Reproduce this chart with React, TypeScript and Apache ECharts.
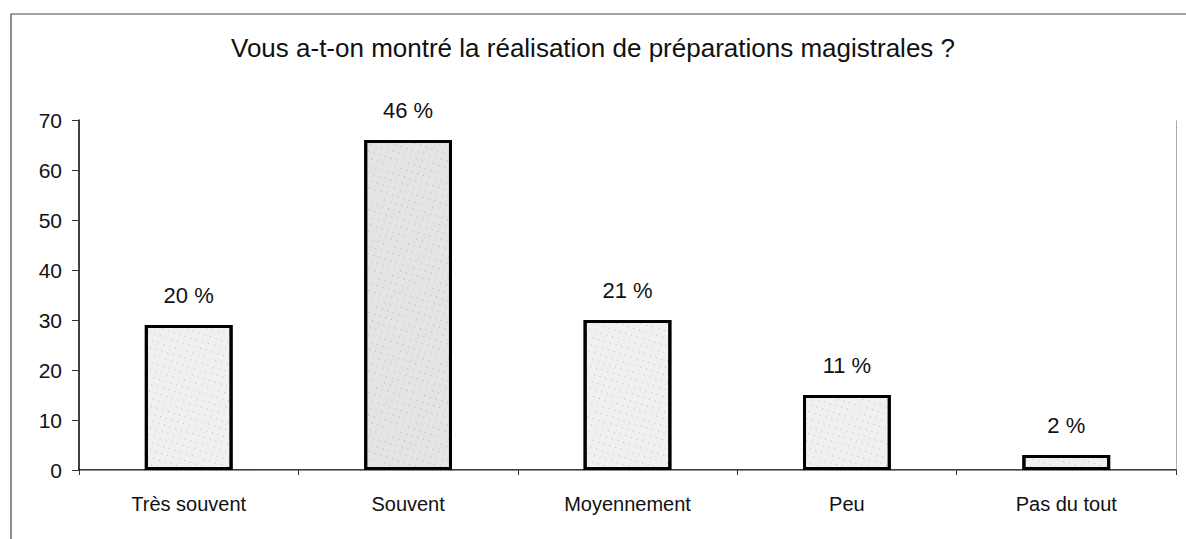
import React, { useEffect, useRef } from "react";
import * as echarts from "echarts";

const categories = ["Très souvent", "Souvent", "Moyennement", "Peu", "Pas du tout"];
const values = [29, 66, 30, 15, 3];
const percentLabels = ["20 %", "46 %", "21 %", "11 %", "2 %"];
const yTicks = [0, 10, 20, 30, 40, 50, 60, 70];
const title = "Vous a-t-on montré la réalisation de préparations magistrales ?";

const FONT = "'Liberation Sans', Arial, sans-serif";

export default function App() {
  const ref = useRef<HTMLDivElement>(null);
  useEffect(() => {
    if (!ref.current) return;
    const chart = echarts.init(ref.current, undefined, { renderer: "svg" });
    chart.setOption({
      animation: false,
      backgroundColor: "#ffffff",
      textStyle: { fontFamily: FONT },
      title: {
        text: title,
        left: "center",
        top: 30,
        textStyle: { fontFamily: FONT, fontSize: 26, fontWeight: "normal", color: "#111" },
      },
      graphic: [
        {
          type: "rect",
          shape: { x: 11, y: 14, width: 1200, height: 600 },
          style: { fill: "none", stroke: "#444", lineWidth: 1.2 },
          silent: true,
          z: -10,
        },
      ],
      grid: { left: 79, right: 10, top: 120, bottom: 69 },
      xAxis: [
        {
          type: "category",
          data: categories,
          boundaryGap: true,
          axisLine: { lineStyle: { color: "#000", width: 1.5 } },
          axisTick: { show: true, length: 5, lineStyle: { color: "#333" } },
          axisLabel: { color: "#111", fontSize: 20, margin: 24, fontFamily: FONT },
        },
        {
          type: "category",
          data: categories,
          position: "top",
          axisLine: { show: true, lineStyle: { color: "#999", type: "dotted", width: 1 } },
          axisTick: { show: false },
          axisLabel: { show: false },
        },
      ],
      yAxis: [
        {
          type: "value",
          min: yTicks[0],
          max: yTicks[yTicks.length - 1],
          interval: 10,
          axisLine: { show: true, lineStyle: { color: "#000", width: 1.5 } },
          axisTick: { show: true, length: 7, lineStyle: { color: "#333" } },
          axisLabel: { color: "#111", fontSize: 21, margin: 17, fontFamily: FONT },
          splitLine: { show: false },
        },
        {
          type: "value",
          position: "right",
          min: yTicks[0],
          max: yTicks[yTicks.length - 1],
          interval: 10,
          axisLine: { show: true, lineStyle: { color: "#999", type: "dotted", width: 1 } },
          axisTick: { show: false },
          axisLabel: { show: false },
          splitLine: { show: false },
        },
      ],
      series: [
        {
          type: "bar",
          data: values.map((v, i) => ({
            value: v,
            itemStyle: { color: i === 1 ? "#e4e4e4" : "#f0f0f0" },
          })),
          barWidth: "40%",
          itemStyle: {
            borderColor: "#000",
            borderWidth: 3,
            decal: {
              symbol: "rect",
              symbolSize: 1,
              color: "rgba(90,90,90,0.35)",
              dashArrayX: [1, 5],
              dashArrayY: [1, 6],
              rotation: 0.3,
            },
          },
          label: {
            show: true,
            position: "top",
            distance: 19,
            color: "#111",
            fontSize: 22,
            fontFamily: FONT,
            formatter: (p: any) => percentLabels[p.dataIndex],
          },
        },
      ],
    });
    return () => chart.dispose();
  }, []);
  return (
    <div
      ref={ref}
      style={{ position: "fixed", left: 0, top: 0, width: 1186, height: 539 }}
    />
  );
}
